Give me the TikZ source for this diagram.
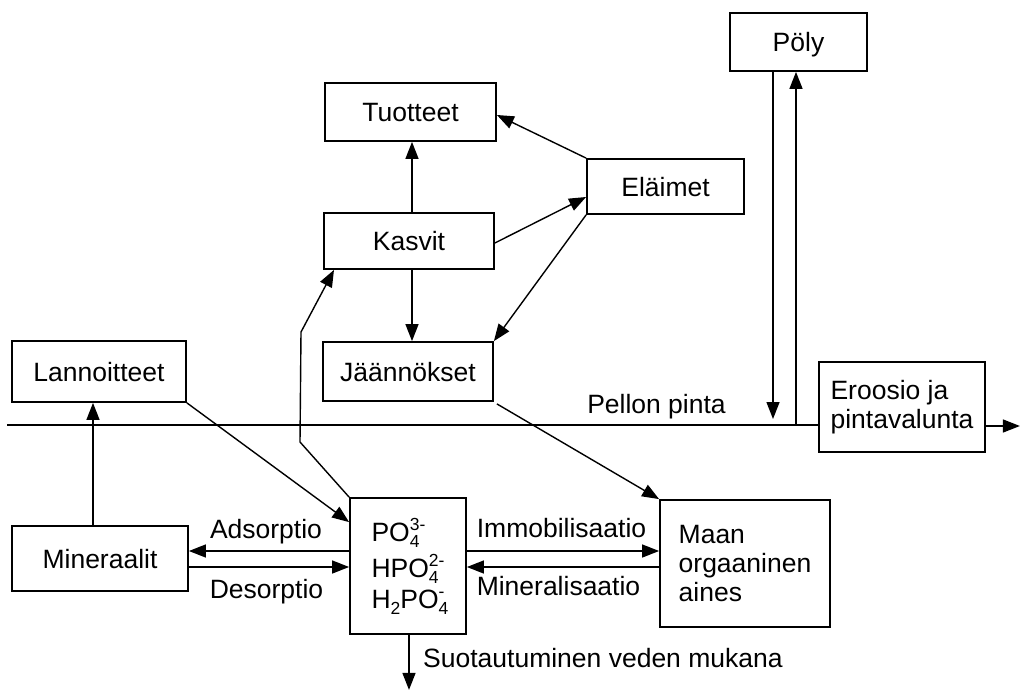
\documentclass[tikz,border=0pt]{standalone}
\usepackage{fontspec}
\setmainfont{Liberation Sans}
\usetikzlibrary{arrows.meta,calc}

% stacked subscript / superscript for ion formulas
\newcommand\ionsub[2]{\makebox[0pt][l]{\raisebox{-6pt}{\fontsize{17.5}{17.5}\selectfont #1}}\raisebox{11pt}{\fontsize{17.5}{17.5}\selectfont #2}}
\newcommand\lowidx[1]{\raisebox{-6pt}{\fontsize{17.5}{17.5}\selectfont #1}}

\tikzset{
  box/.style={draw, line width=1.8pt, inner sep=0pt, font=\fontsize{26.5}{29}\selectfont},
  lone/.style={text height=19pt, text depth=0pt},
  flow/.style={line width=1.4pt, -{Triangle[length=17pt,width=13pt]}},
  surface/.style={line width=2pt},
  lbl/.style={font=\fontsize{26.5}{29}\selectfont, inner sep=0pt, anchor=base},
}

\begin{document}
\begin{tikzpicture}[x=1pt,y=-1pt]
\useasboundingbox (0,0) rectangle (1020,690);

% boxes
\node[box, lone, minimum width=137pt, minimum height=58pt] (poly)  at (798.5,42)   {Pöly};
\node[box, lone, minimum width=171pt, minimum height=58pt] (tuot)  at (410.5,112)  {Tuotteet};
\node[box, lone, minimum width=157pt, minimum height=55pt] (elain) at (665.5,186.5) {Eläimet};
\node[box, lone, minimum width=170pt, minimum height=56pt] (kasvit) at (409,241)   {Kasvit};
\node[box, lone, minimum width=170pt, minimum height=59pt] (jaan)  at (408,371.5)  {Jäännökset};
\node[box, lone, minimum width=174pt, minimum height=61pt] (lann)  at (99,371.5)   {Lannoitteet};
\node[box, lone, minimum width=176pt, minimum height=65pt] (miner) at (100,558.5)  {Mineraalit};
\node[box, align=left, minimum width=166pt, minimum height=90pt] (eroos) at (902,407)
  {Eroosio ja\\pintavalunta};
\node[box, align=left, minimum width=170pt, minimum height=127pt] (maan) at (745,563.5)
  {Maan\\orgaaninen\\aines};
\node[box, align=left, minimum width=116pt, minimum height=136pt,
      font={\fontsize{26.5}{33.5}\selectfont\lineskiplimit=-100pt}] (fosf) at (408,566)
  {PO\ionsub{4}{3-}\\[2.5pt]HPO\ionsub{4}{2-}\\[-2.5pt]H\lowidx{2}PO\ionsub{4}{-}};

% field surface
\coordinate (surfL) at (7,425);
\draw[surface] (surfL) -- (surfL -| eroos.west);
\node[lbl] at (656.5,413) {Pellon pinta};

% flows above ground
\draw[flow] ([xshift=3pt]kasvit.north) -- ([xshift=3pt]kasvit.north |- tuot.south);
\draw[flow] ([xshift=3pt]kasvit.south) -- ([xshift=3pt]kasvit.south |- jaan.north);
\draw[flow] (elain.north west) -- ([yshift=-3pt]tuot.east);
\draw[flow] ([yshift=-2pt]kasvit.east) -- ([yshift=-10.5pt]elain.west);
\draw[flow] (elain.south west) -- (jaan.north east);

% dust
\draw[flow, shorten >=6pt] ([xshift=-25.5pt]poly.south) -- ([xshift=-25.5pt]poly.south |- surfL);
\draw[flow] ([xshift=-2.5pt]poly.south |- surfL) -- ([xshift=-2.5pt]poly.south);

% erosion outflow
\draw[flow] ([yshift=-19pt]eroos.east) -- ++(34,0);

% fertiliser and minerals
\draw[flow] ([xshift=-7pt]miner.north) -- ([xshift=-7pt]miner.north |- lann.south);
\draw[flow] (lann.south east) -- ([yshift=-25pt]fosf.north west);

% plant uptake
\draw[flow] (fosf.north west) -- (300,442) -- (301,332) -- ([xshift=-75pt]kasvit.south);

% residues to soil organic matter
\draw[flow] ([xshift=3pt,yshift=-2pt]jaan.south east) -- (maan.north west);

% sorption
\draw[flow] ([yshift=15pt]fosf.west) -- ([yshift=15pt]fosf.west -| miner.east);
\draw[flow] ([yshift=-1pt]fosf.west -| miner.east) -- ([yshift=-1pt]fosf.west);
\node[lbl] at (266,538) {Adsorptio};
\node[lbl] at (266.5,598) {Desorptio};

% immobilisation / mineralisation
\draw[flow] ([yshift=15pt]fosf.east) -- ([yshift=15pt]fosf.east -| maan.west);
\draw[flow] ([yshift=-1pt]fosf.east -| maan.west) -- ([yshift=-1pt]fosf.east);
\node[lbl] at (561.5,537) {Immobilisaatio};
\node[lbl] at (558.5,595) {Mineralisaatio};

% leaching
\draw[flow] ([xshift=1pt]fosf.south) -- ++(0,55);
\node[lbl, anchor=base west] at (423,667) {Suotautuminen veden mukana};
\end{tikzpicture}
\end{document}
